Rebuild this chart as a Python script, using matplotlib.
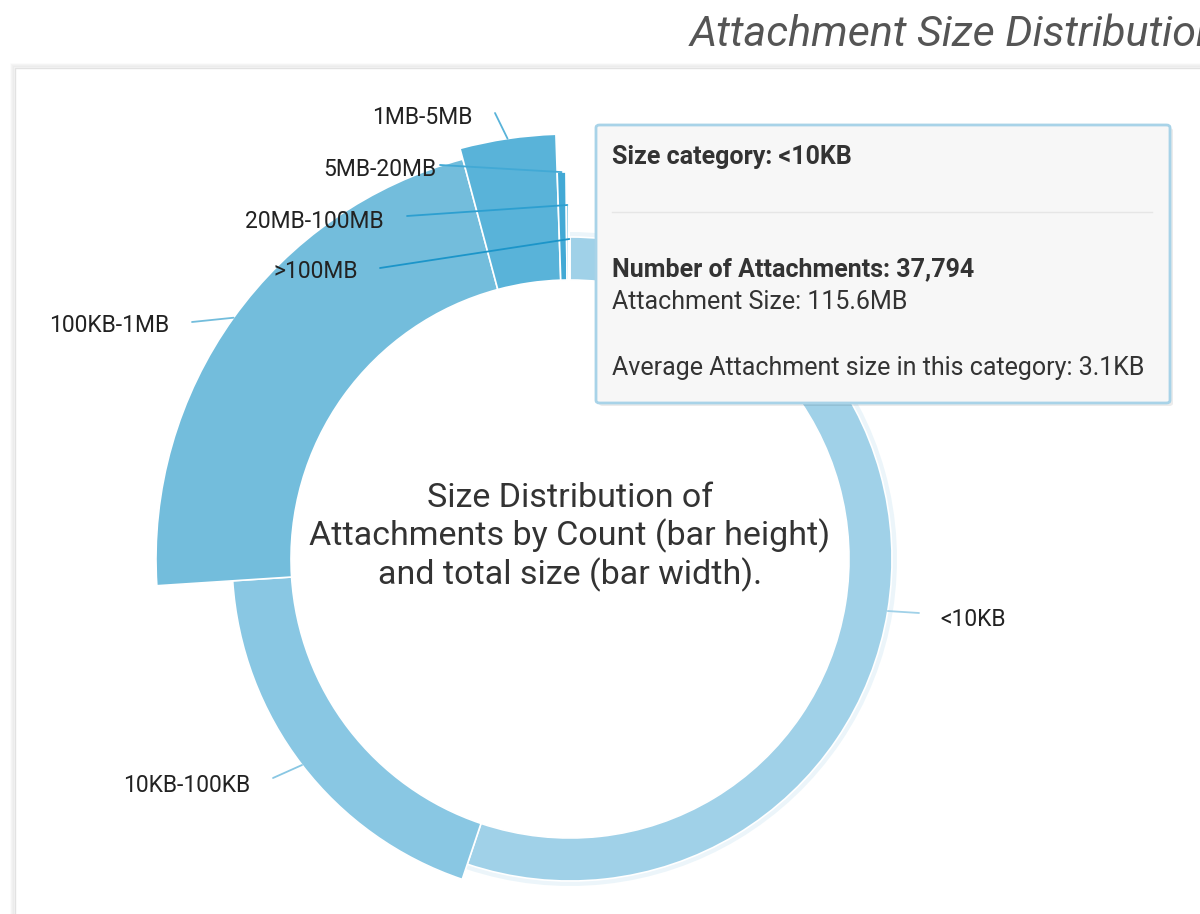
import numpy as np
import matplotlib.pyplot as plt
from matplotlib.patches import FancyBboxPatch, Rectangle

plt.rcParams['font.family'] = ['Roboto', 'DejaVu Sans']
plt.rcParams['figure.dpi'] = 100

# data: angle = number of attachments, radial height = relative total size
categories = ['<10KB', '10KB-100KB', '100KB-1MB', '1MB-5MB', '5MB-20MB', '20MB-100MB', '>100MB']
counts = [37794, 12884, 14977, 2493, 247, 67, 48]
bar_height = [43, 59, 135, 146, 108, 75, 41]
colors = ['#a0d1e8', '#89c7e3', '#73bddc', '#59b3d9', '#42a9d5', '#2d9fd0', '#1c95c9']

tooltip_title = 'Size category: <10KB'
tooltip_count = 'Number of Attachments: 37,794'
tooltip_size = 'Attachment Size: 115.6MB'
tooltip_avg = 'Average Attachment size in this category: 3.1KB'

W, H = 1200, 914
def fx(x): return x / W
def fy(y): return 1 - y / H

# label layout in pixels (x, y from top), text anchor and leader start
label_layout = {
    '<10KB':      (940, 619, 'left',  (919, 613)),
    '10KB-100KB': (250, 785, 'right', (273, 778)),
    '100KB-1MB':  (169, 326, 'right', (192, 322)),
    '1MB-5MB':    (472, 117, 'right', (495, 113)),
    '5MB-20MB':   (436, 170, 'right', (440, 165)),
    '20MB-100MB': (384, 221, 'right', (407, 216)),
    '>100MB':     (358, 272, 'right', (380, 268)),
}

fig = plt.figure(figsize=(W / 100, H / 100))
fig.patch.set_facecolor('white')

# card with soft shadow
for i, a in enumerate([0.05, 0.04, 0.03, 0.02]):
    d = i + 1
    fig.patches.append(Rectangle((fx(15 - d), fy(H + 20)), fx(W + 20), (H + 20 - 68 + d) / H,
                                 transform=fig.transFigure, facecolor='none',
                                 edgecolor=(0, 0, 0, a), linewidth=1.2, zorder=-2))
fig.patches.append(Rectangle((fx(15), fy(H + 20)), fx(W + 20), (H + 20 - 68) / H,
                             transform=fig.transFigure, facecolor='white',
                             edgecolor='#e2e2e2', linewidth=1, zorder=-1))

# title runs off the right edge, as in the original screenshot
fig.text(fx(690), fy(46), 'Attachment Size Distribution', fontsize=31, fontstyle='italic',
         color='#555555', ha='left', va='baseline')

r_inner = 279
R = 450
ax = fig.add_axes([fx(570 - R), fy(559 + R), 2 * R / W, 2 * R / H], projection='polar')
ax.set_theta_zero_location('N')
ax.set_theta_direction(-1)
ax.set_ylim(0, R)
ax.axis('off')
ax.patch.set_alpha(0)

counts_arr = np.array(counts, dtype=float)
widths = 2 * np.pi * counts_arr / counts_arr.sum()
starts = np.concatenate([[0], np.cumsum(widths)[:-1]])
mids = starts + widths / 2

# hover halo on the first slice
ax.bar(mids[0], bar_height[0] + 5, width=widths[0], bottom=r_inner, color=colors[0],
       alpha=0.2, linewidth=0, zorder=1)
ax.bar(mids, bar_height, width=widths, bottom=r_inner, color=colors,
       edgecolor='white', linewidth=1.2, zorder=2)

for i, cat in enumerate(categories):
    tx, ty, ha, (lx, ly) = label_layout[cat]
    ax.annotate('', xy=(mids[i], r_inner + bar_height[i]), xycoords='data',
                xytext=(lx, H - ly), textcoords='figure pixels',
                arrowprops=dict(arrowstyle='-', color=colors[i], lw=1.3,
                                shrinkA=0, shrinkB=0), annotation_clip=False, zorder=3)
    fig.text(fx(tx), fy(ty), cat, fontsize=16.5, color='#222222', ha=ha, va='center', zorder=5)

fig.text(fx(570), fy(537), 'Size Distribution of\nAttachments by Count (bar height)\nand total size (bar width).',
         fontsize=24.5, color='#333333', ha='center', va='center', linespacing=1.18)

# tooltip
x0, y0, x1, y1 = 596, 125, 1170, 403
fig.patches.append(FancyBboxPatch((fx(x0 + 3), fy(y1 + 3)), fx(x1 - x0), (y1 - y0) / H,
                                  boxstyle='round,pad=0,rounding_size=0.003',
                                  transform=fig.transFigure, facecolor=(0, 0, 0, 0.08),
                                  edgecolor='none', zorder=8))
fig.patches.append(FancyBboxPatch((fx(x0), fy(y1)), fx(x1 - x0), (y1 - y0) / H,
                                  boxstyle='round,pad=0,rounding_size=0.003',
                                  transform=fig.transFigure, facecolor='#f7f7f7',
                                  edgecolor='#a8d3e8', linewidth=2, zorder=9))
fig.add_artist(plt.Line2D([fx(612), fx(1152)], [fy(212), fy(212)], color='#e6e6e6',
                          lw=1, transform=fig.transFigure, zorder=10))
fig.text(fx(612), fy(157), tooltip_title, fontsize=18, fontweight='bold', color='#333333',
         va='center', zorder=11)
fig.text(fx(612), fy(269), tooltip_count, fontsize=18, fontweight='bold', color='#333333',
         va='center', zorder=11)
fig.text(fx(612), fy(302), tooltip_size, fontsize=18, color='#333333', va='center', zorder=11)
fig.text(fx(612), fy(368), tooltip_avg, fontsize=18, color='#333333', va='center', zorder=11)

fig.savefig('out.png', dpi=100)
